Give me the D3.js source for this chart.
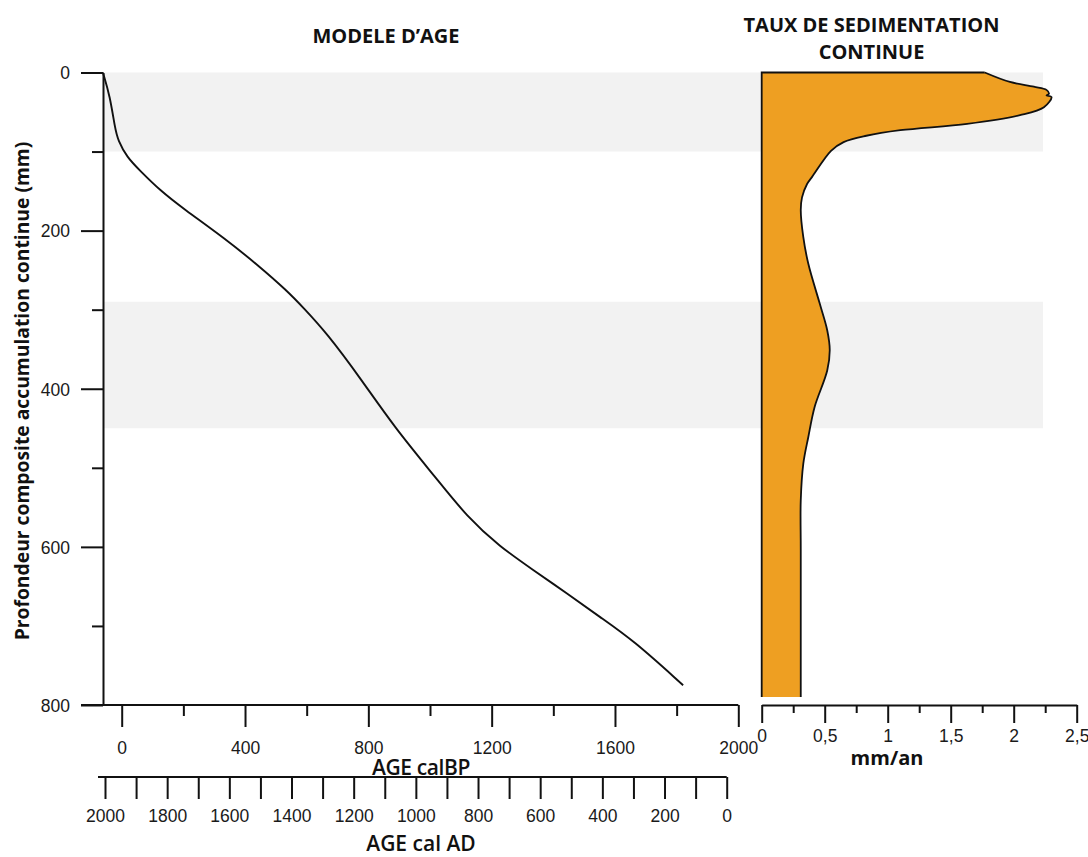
<!DOCTYPE html>
<html lang="fr">
<head>
    <meta charset="UTF-8">
    <title>Modèle d'âge et taux de sédimentation</title>
    <script src="https://d3js.org/d3.v7.min.js"></script>
    <style>
        body {
            margin: 0;
            background: white;
        }
        .tick text {
            font-family: "Liberation Sans", Arial, sans-serif;
            font-size: 17.5px;
            fill: #1a1a1a;
        }
        .label {
            font-family: "Open Sans", sans-serif;
            font-weight: 700;
            fill: #111;
        }
    </style>
</head>
<body>
    <div id="chart"></div>

    <script>
        // age model: composite depth (mm) vs age (cal BP)
        const ageDepth = [0, 30, 70, 86, 107, 124, 149, 172, 210, 246, 276, 297, 330, 386, 449, 513, 562, 600, 629, 659, 689, 718, 775];
        const ageBP = [-61, -38, -22, -12, 17, 59, 124, 199, 335, 449, 536, 588, 666, 773, 885, 1020, 1120, 1227, 1334, 1445, 1552, 1659, 1821];

        // continuous sedimentation rate (mm/an) vs depth (mm)
        const rateDepth = [0, 12, 18, 22, 27, 29, 31, 44, 54, 65, 73, 80, 88, 99, 132, 141, 158, 174, 208, 242, 292, 326, 351, 377, 423, 461, 495, 541, 604, 790];
        const rateValue = [1.77, 1.97, 2.16, 2.26, 2.28, 2.26, 2.30, 2.24, 2.05, 1.63, 1.10, 0.83, 0.65, 0.55, 0.40, 0.36, 0.32, 0.31, 0.33, 0.37, 0.46, 0.52, 0.54, 0.52, 0.42, 0.37, 0.33, 0.31, 0.31, 0.31];

        // shaded depth intervals (mm)
        const bandStart = [0, 290];
        const bandEnd = [100, 450];

        const depthTicks = d3.range(0, 801, 100);
        const bpTicks = d3.range(0, 2001, 200);
        const adTicks = d3.range(0, 2001, 100);
        const rateTicks = d3.range(0, 2.51, 0.25);

        const W = 1088, H = 857;

        const svg = d3.select("#chart")
            .append("svg")
            .attr("width", W)
            .attr("height", H);

        // scales
        const yDepth = d3.scaleLinear().domain([0, 800]).range([72.5, 705]);
        const xBP = d3.scaleLinear().domain([0, 2000]).range([121.7, 738.3]);
        const xAD = d3.scaleLinear().domain([2000, 0]).range([105, 726.7]);
        const xRate = d3.scaleLinear().domain([0, 2.5]).range([761.7, 1076.7]);

        const axisX = 103;   // left depth axis position
        const bandRight = 1043;

        // grey bands
        svg.selectAll("rect.band")
            .data(bandStart.map((s, i) => ({ s, e: bandEnd[i] })))
            .enter().append("rect")
            .attr("class", "band")
            .attr("x", axisX)
            .attr("y", d => yDepth(d.s))
            .attr("width", bandRight - axisX)
            .attr("height", d => yDepth(d.e) - yDepth(d.s))
            .style("fill", "#f2f2f2");

        // ---------- left panel : age model ----------
        const ageData = ageDepth.map((d, i) => ({ d, bp: ageBP[i] }));

        svg.append("path")
            .datum(ageData)
            .attr("fill", "none")
            .attr("stroke", "#111")
            .attr("stroke-width", 1.9)
            .attr("d", d3.line()
                .x(d => xBP(d.bp))
                .y(d => yDepth(d.d))
                .curve(d3.curveBasis));

        // depth axis
        const yAxis = svg.append("g")
            .attr("transform", `translate(${axisX},0)`)
            .call(d3.axisLeft(yDepth)
                .tickValues(depthTicks)
                .tickSizeOuter(0)
                .tickFormat(d => d % 200 === 0 ? d : ""));
        yAxis.select(".domain").attr("stroke", "#111").attr("stroke-width", 2);
        yAxis.selectAll(".tick line")
            .attr("stroke", "#111").attr("stroke-width", 2)
            .attr("x2", d => d % 200 === 0 ? -22 : -11);
        yAxis.selectAll(".tick text")
            .attr("x", -33)
            .attr("dy", "0.36em");

        // age BP axis
        const bpAxis = svg.append("g")
            .attr("transform", `translate(0,${yDepth(800)})`)
            .call(d3.axisBottom(xBP)
                .tickValues(bpTicks)
                .tickSizeOuter(0)
                .tickFormat(d => d % 400 === 0 ? d : ""));
        bpAxis.select(".domain").remove();
        bpAxis.append("line")
            .attr("x1", axisX - 22).attr("x2", xBP(2000))
            .attr("stroke", "#111").attr("stroke-width", 2);
        bpAxis.selectAll(".tick line")
            .attr("stroke", "#111").attr("stroke-width", 2)
            .attr("y2", d => d % 400 === 0 ? 22 : 11);
        bpAxis.selectAll(".tick text")
            .attr("y", 49)
            .attr("dy", 0);

        svg.append("text")
            .attr("class", "label")
            .attr("x", 421).attr("y", 775)
            .attr("text-anchor", "middle")
            .style("font-size", "21px")
            .style("font-weight", 600)
            .style("letter-spacing", "-0.4px")
            .text("AGE calBP");

        // age AD axis
        const adAxis = svg.append("g")
            .attr("transform", "translate(0,777)")
            .call(d3.axisBottom(xAD)
                .tickValues(adTicks)
                .tickSize(22)
                .tickSizeOuter(0)
                .tickFormat(d => d % 200 === 0 ? d : ""));
        adAxis.select(".domain").remove();
        adAxis.append("line")
            .attr("x1", xAD(2000) - 7).attr("x2", xAD(0))
            .attr("stroke", "#111").attr("stroke-width", 2);
        adAxis.selectAll(".tick line").attr("stroke", "#111").attr("stroke-width", 2);
        adAxis.selectAll(".tick text").attr("y", 45).attr("dy", 0);

        svg.append("text")
            .attr("class", "label")
            .attr("x", 421).attr("y", 851)
            .attr("text-anchor", "middle")
            .style("font-size", "21px")
            .style("font-weight", 600)
            .text("AGE cal AD");

        svg.append("text")
            .attr("class", "label")
            .attr("x", 386).attr("y", 42.5)
            .attr("text-anchor", "middle")
            .style("font-size", "20px")
            .text("MODELE D\u2019AGE");

        svg.append("text")
            .attr("class", "label")
            .attr("transform", "translate(29,391) rotate(-90)")
            .attr("text-anchor", "middle")
            .style("font-size", "19.3px")
            .text("Profondeur composite accumulation continue (mm)");

        // ---------- right panel : sedimentation rate ----------
        const rateData = rateDepth.map((d, i) => ({ d, r: rateValue[i] }));

        svg.append("path")
            .datum(rateData)
            .attr("fill", "#ee9f22")
            .attr("d", d3.area()
                .y(d => yDepth(d.d))
                .x0(xRate(0))
                .x1(d => xRate(d.r))
                .curve(d3.curveCatmullRom));

        svg.append("path")
            .datum(rateData)
            .attr("fill", "none")
            .attr("stroke", "#111")
            .attr("stroke-width", 1.8)
            .attr("d", d3.line()
                .x(d => xRate(d.r))
                .y(d => yDepth(d.d))
                .curve(d3.curveCatmullRom));

        const first = rateData[0], last = rateData[rateData.length - 1];
        svg.append("path")
            .datum([{ d: last.d, r: 0 }, { d: 0, r: 0 }, first])
            .attr("fill", "none")
            .attr("stroke", "#111")
            .attr("stroke-width", 1.8)
            .attr("d", d3.line().x(d => xRate(d.r)).y(d => yDepth(d.d)));

        const rAxis = svg.append("g")
            .attr("transform", `translate(0,${yDepth(800)})`)
            .call(d3.axisBottom(xRate)
                .tickValues(rateTicks)
                .tickSizeOuter(0)
                .tickFormat(d => (d * 2) % 1 === 0 ? String(d).replace(".", ",") : ""));
        rAxis.select(".domain").attr("stroke", "#111").attr("stroke-width", 2);
        rAxis.selectAll(".tick line")
            .attr("stroke", "#111").attr("stroke-width", 2)
            .attr("y2", d => (d * 2) % 1 === 0 ? 18 : 8);
        rAxis.selectAll(".tick text").attr("y", 37).attr("dy", 0);

        svg.append("text")
            .attr("class", "label")
            .attr("x", 887).attr("y", 765)
            .attr("text-anchor", "middle")
            .style("font-size", "20px")
            .text("mm/an");

        svg.append("text")
            .attr("class", "label")
            .attr("x", 871.5).attr("y", 31.5)
            .attr("text-anchor", "middle")
            .style("font-size", "20px")
            .text("TAUX DE SEDIMENTATION");
        svg.append("text")
            .attr("class", "label")
            .attr("x", 871.5).attr("y", 59)
            .attr("text-anchor", "middle")
            .style("font-size", "20px")
            .text("CONTINUE");
    </script>
</body>
</html>
